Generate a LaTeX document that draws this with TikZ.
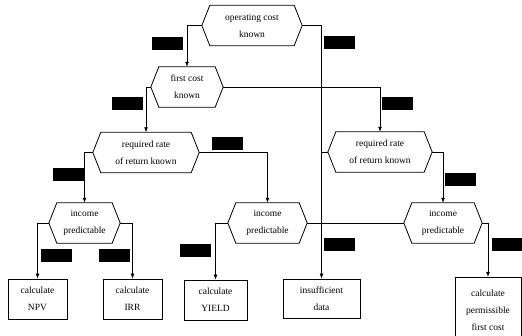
\documentclass[tikz,border=0pt]{standalone}
\usepackage{fontspec}
\setmainfont{Liberation Serif}
\usetikzlibrary{arrows.meta}

\begin{document}
\begin{tikzpicture}[x=1pt,y=-1pt,
    every node/.style={font=\fontsize{9.5}{17}\selectfont, align=center, inner sep=1pt},
    decision/.style={minimum height=40pt},
    result/.style={draw, line width=0.8pt, minimum height=40pt},
    tag/.style={fill=black, minimum width=31pt, minimum height=13pt, inner sep=0pt},
    flow/.style={line width=0.8pt, -{Latex[length=5pt,width=4pt]}},
    mergeline/.style={line width=0.8pt}]
    \useasboundingbox (0,0) rectangle (522,336);

    % Define chamfer of the hexagons
    \def\cut{8}

    % Decision nodes
    \node[decision, minimum width=100pt] (opc) at (252,25.5) {operating cost\\known};
    \node[decision, minimum width=72pt] (fc) at (187,87) {first cost\\known};
    \node[decision, minimum width=106pt] (rrl) at (146,152.5) {required rate\\of return known};
    \node[decision, minimum width=104pt] (rrr) at (380,152) {required rate\\of return known};
    \node[decision, minimum width=71pt] (incl) at (84.5,223) {income\\predictable};
    \node[decision, minimum width=79pt] (incm) at (267.5,223) {income\\predictable};
    \node[decision, minimum width=78pt] (incr) at (443,223) {income\\predictable};

    % Draw hexagon outlines
    \foreach \n in {opc, fc, rrl, rrr, incl, incm, incr} {
        \draw[line width=0.8pt] (\n.west) -- ([xshift=\cut]\n.north west) -- ([xshift=-\cut]\n.north east)
            -- (\n.east) -- ([xshift=-\cut]\n.south east) -- ([xshift=\cut]\n.south west) -- cycle;
    }

    % Result boxes
    \node[result, minimum width=59pt] (npv) at (37.5,299) {calculate\\NPV};
    \node[result, minimum width=59pt] (irr) at (132.5,299) {calculate\\IRR};
    \node[result, minimum width=63pt] (yld) at (215.5,300) {calculate\\YIELD};
    \node[result, minimum width=77pt, minimum height=39pt] (insuf) at (321.5,298.5) {insufficient\\data};
    \node[result, minimum width=66pt, minimum height=66pt, anchor=north] (perm) at (488,277) {calculate\\permissible\\first cost};

    % Connectors
    \draw[flow] (opc.west) -| (fc.north);
    \draw[flow] (opc.east) -| (insuf.north);
    \draw[flow] (fc.west) -| (rrl.north);
    \draw[flow] (fc.east) -| (rrr.north);
    \draw[flow] (rrl.west) -| (incl.north);
    \draw[flow] (rrl.east) -| (incm.north);
    \draw[flow] (rrr.east) -| (incr.north);
    \draw[mergeline] (rrr.west) -- (rrr.west -| insuf.north);
    \draw[flow] (incl.west) -| (npv.north);
    \draw[flow] (incl.east) -| (irr.north);
    \draw[flow] (incm.west) -| (yld.north);
    \draw[mergeline] (incm.east) -- (incm.east -| insuf.north);
    \draw[mergeline] (incr.west) -- (incr.west -| insuf.north);
    \draw[flow] (incr.east) -| (perm.north);

    % Blacked-out branch labels
    \foreach \x/\y [count=\i] in {167.5/43.5, 339/43, 127.5/104, 397/103.5, 68/175, 227/143.5,
        460/180, 56/255.5, 114.5/255.5, 195/251, 339/245, 507/244.5} {
        \node[tag] (tag\i) at (\x,\y) {};
    }

\end{tikzpicture}
\end{document}
